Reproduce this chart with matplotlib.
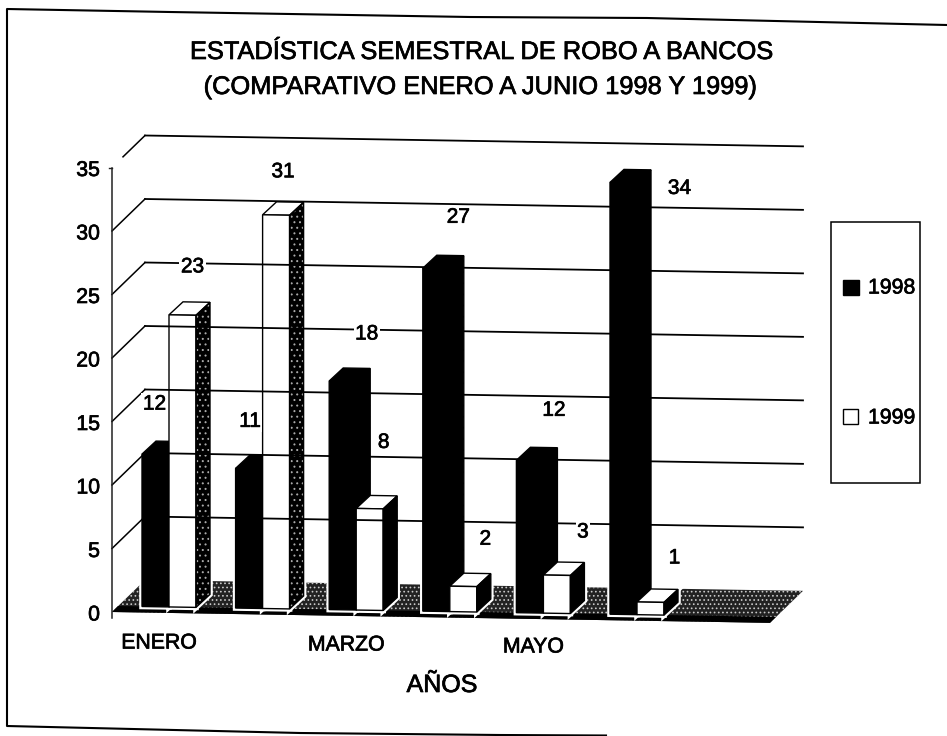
import matplotlib
matplotlib.use("Agg")
import matplotlib.pyplot as plt
import matplotlib.patheffects as pe
from matplotlib.patches import Polygon, Rectangle

plt.rcParams['font.family'] = ['Liberation Sans', 'DejaVu Sans']
plt.rcParams['hatch.linewidth'] = 0.7

# datos
meses = ["ENERO", "FEBRERO", "MARZO", "ABRIL", "MAYO", "JUNIO"]
mostrar_mes = [True, False, True, False, True, False]
robos_1998 = [12, 11, 18, 27, 12, 34]
robos_1999 = [23, 31, 8, 2, 3, 1]
ticks_y = [0, 5, 10, 15, 20, 25, 30, 35]

# colocacion a mano de las etiquetas (dx, dy respecto a la cara frontal de cada barra)
offs_1998 = [(-1, -50), (1, -47), (24, -47), (22, -51), (24, -50), (56, 6)]
offs_1999 = [(10, -48), (7, -43), (14, -66), (22, -47), (26, -43), (24, -44)]

ppu = 12.7       # pixeles por unidad
x0 = 112         # esquina frontal izquierda del piso
y0 = 612
depth = 33       # fondo del piso
slope = 0.0165
bar_x0 = 142
step = 93.6
bar_w = 27
d_bar = 14       # profundidad de cada barra
grueso = [pe.withStroke(linewidth=0.5, foreground="black")]


def front_y(x, v, lift=0):
    return y0 + (x - x0) * slope - v * ppu - lift


def back_y(x, v):
    return y0 - 32 + (x - x0 - depth) * slope - v * ppu


def texto(x, y, s, size, **kw):
    return ax.text(x, y, s, ha=kw.pop("ha", "center"), va="center", fontsize=size, path_effects=grueso, **kw)


fig = plt.figure(figsize=(9.47, 7.36), dpi=100)
ax = fig.add_axes([0, 0, 1, 1])
ax.set_xlim(0, 947)
ax.set_ylim(736, 0)
ax.axis("off")

# marco del escaneo, sin lado derecho
ax.plot([947, 647, 470, 170, 7, 7, 300, 500, 606],
        [25, 18, 17, 12, 9, 726, 733, 735, 735.5], color="black", lw=1.5)

# titulo
texto(481, 52, "ESTADÍSTICA SEMESTRAL DE ROBO A BANCOS", 18.3)
texto(480, 87, "(COMPARATIVO ENERO A JUNIO 1998 Y 1999)", 18.3)

# paredes
for t in ticks_y:
    if t > 0:
        xl = x0 + depth
        xs = x0 + 11 if t == 35 else x0
        ys = front_y(x0, t) + (back_y(xl, t) - front_y(x0, t)) * (xs - x0) / depth
        ax.plot([xs, xl], [ys, back_y(xl, t)], color="black", lw=1.1)
        ax.plot([xl, 803], [back_y(xl, t), back_y(803, t)], color="black", lw=1.3)
    texto(100, front_y(x0, t) + 3, str(t), 15.3, ha="right")
ax.plot([x0, x0], [front_y(x0, 35), y0 + 6], color="#222222", lw=1.1)
ax.plot([x0 - 3, x0], [front_y(x0, 35)] * 2, color="#222222", lw=1)

# piso
xr = 770
piso = [(x0, y0), (x0 + depth, back_y(x0 + depth, 0)), (xr + depth, back_y(xr + depth, 0)), (xr, front_y(xr, 0))]
ax.add_patch(Polygon(piso, closed=True, facecolor="#222222", edgecolor="#c8c8c8", hatch="....", lw=0))
franja = [(x0, y0), (x0 + 6, y0 - 6), (xr + 6, front_y(xr, 0, 6)), (xr, front_y(xr, 0))]
ax.add_patch(Polygon(franja, closed=True, facecolor="black", lw=0))


def caras(x, v):
    base = front_y(x, 0, 6)
    arriba = base - v * ppu
    der = x + bar_w
    base_d = front_y(der, 0, 6)
    arriba_d = base_d - v * ppu
    frente = [(x, base), (der, base_d), (der, arriba_d), (x, arriba)]
    costado = [(der, base_d), (der + d_bar, base_d - 13), (der + d_bar, arriba_d - 13), (der, arriba_d)]
    techo = [(x, arriba), (x + d_bar, arriba - 13), (der + d_bar, arriba_d - 13), (der, arriba_d)]
    return frente, costado, techo


def halo(x, v):
    # halo blanco como en el escaneo
    frente, costado, techo = caras(x, v)
    for cara in (frente, costado, techo):
        ax.add_patch(Polygon(cara, closed=True, facecolor="white", edgecolor="white", lw=4))


def barra(x, v, color_cara, lado, tapa):
    frente, costado, techo = caras(x, v)
    ax.add_patch(Polygon(costado, closed=True, facecolor="black", edgecolor=lado, hatch="...", lw=0))
    ax.add_patch(Polygon(techo, closed=True, facecolor=tapa, edgecolor="black", lw=1))
    ax.add_patch(Polygon(frente, closed=True, facecolor=color_cara, edgecolor="black", lw=1))
    ax.add_patch(Polygon(costado, closed=True, facecolor="none", edgecolor="black", lw=1))


etiquetas = []
for i in range(len(meses)):
    x98 = bar_x0 + i * step
    x99 = x98 + bar_w
    v98 = robos_1998[i]
    v99 = robos_1999[i]
    halo(x98, v98)
    halo(x99, v99)
    barra(x98, v98, "black", "black", "black")
    barra(x99, v99, "white", "#aaaaaa" if v99 > 10 else "black", "white")
    etiquetas.append((x98 + bar_w / 2 + offs_1998[i][0], front_y(x98, v98, 6) + offs_1998[i][1], v98))
    etiquetas.append((x99 + bar_w / 2 + offs_1999[i][0], front_y(x99, v99, 6) + offs_1999[i][1], v99))
    if mostrar_mes[i]:
        texto(x98 + 17, 643 + i, meses[i], 15.3)

for ex, ey, val in etiquetas:
    t = texto(ex, ey, str(val), 15)
    t.set_bbox(dict(facecolor="white", edgecolor="none", pad=1))

texto(442, 685, "AÑOS", 18)

# leyenda
ax.add_patch(Rectangle((831, 222), 89, 261, facecolor="white", edgecolor="black", lw=1.1))
ax.add_patch(Rectangle((843, 280), 16, 15, facecolor="black", edgecolor="black", lw=1))
ax.add_patch(Rectangle((843, 409), 15, 15, facecolor="white", edgecolor="black", lw=1))
texto(868, 288, "1998", 15.3, ha="left")
texto(868, 418, "1999", 15.3, ha="left")

fig.savefig("out.png", dpi=100)
